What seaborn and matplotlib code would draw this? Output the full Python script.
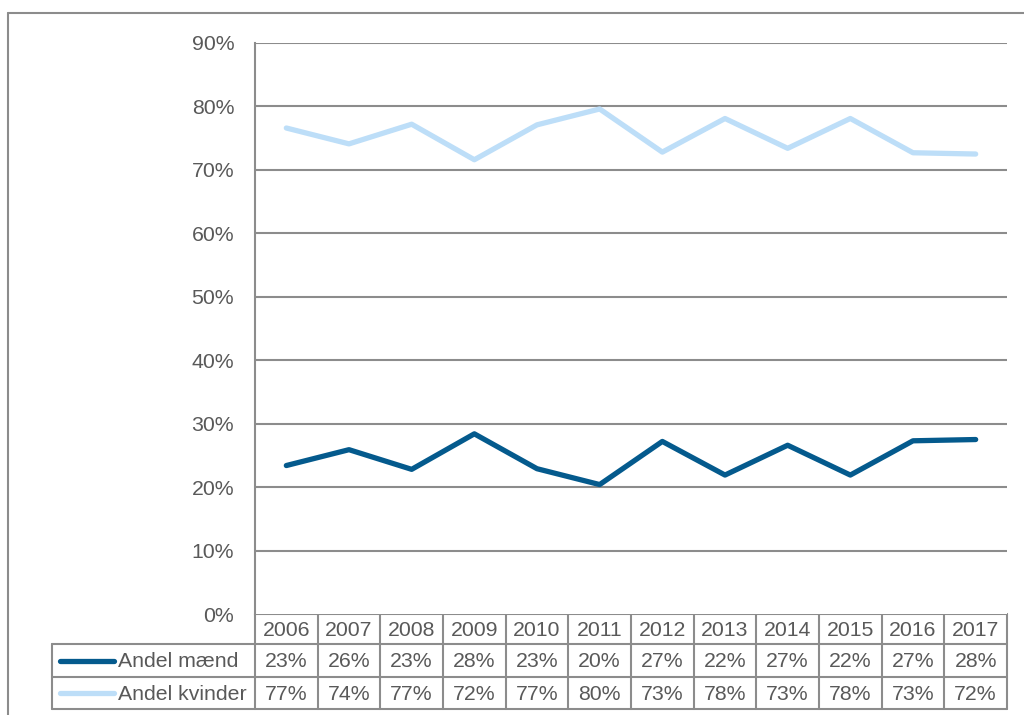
"""Andel mænd / kvinder 2006-2017 med datatabel under grafen."""

import matplotlib.pyplot as plt
import pandas as pd
import seaborn as sns

years = ["2006", "2007", "2008", "2009", "2010", "2011",
         "2012", "2013", "2014", "2015", "2016", "2017"]
andel_maend = [23.4, 25.9, 22.8, 28.4, 22.9, 20.4, 27.2, 21.9, 26.6, 21.9, 27.3, 27.5]
andel_kvinder = [76.6, 74.1, 77.2, 71.6, 77.1, 79.6, 72.8, 78.1, 73.4, 78.1, 72.7, 72.5]
series_names = ["Andel mænd", "Andel kvinder"]
y_ticks = [0, 10, 20, 30, 40, 50, 60, 70, 80, 90]

DARK = "#045a8d"
LIGHT = "#bddef8"
GRID = "#8c8c8c"
TEXT = "#595959"
FS = 15.3

sns.set_style("white")
plt.rcParams["font.family"] = ["Liberation Sans", "DejaVu Sans"]

df = pd.DataFrame({"year": years, series_names[0]: andel_maend,
                   series_names[1]: andel_kvinder})
long = df.melt(id_vars="year", var_name="serie", value_name="andel")
long["pos"] = long["year"].map({y: i for i, y in enumerate(years)})
palette = {series_names[0]: DARK, series_names[1]: LIGHT}

W, H = 1024, 715
fig = plt.figure(figsize=(W / 100, H / 100), dpi=100)
ax = fig.add_axes([255 / W, 1 - 614 / H, 752 / W, 571 / H])

sns.lineplot(data=long, x="pos", y="andel", hue="serie", palette=palette,
             linewidth=3.8, legend=False, ax=ax, solid_capstyle="round")

ax.set_xlim(-0.5, len(years) - 0.5)
ax.set_ylim(0, 90)
ax.set_yticks(y_ticks)
ax.set_yticklabels([f"{t}%" for t in y_ticks], color=TEXT, fontsize=FS)
ax.tick_params(axis="y", length=0, pad=15)
ax.set_xticks([])
ax.set_xlabel("")
ax.set_ylabel("")
for t in y_ticks[1:]:
    ax.axhline(t, color=GRID, linewidth=1.5, zorder=0)
for side in ["top", "right", "bottom"]:
    ax.spines[side].set_visible(False)
ax.spines["left"].set_color(GRID)
ax.spines["left"].set_linewidth(1.5)

# datatabel, tegnet i et eget axes med pixel-koordinater
tx = fig.add_axes([0, 0, 1, 1], zorder=-1)
tx.set_xlim(0, W)
tx.set_ylim(H, 0)
tx.axis("off")

x0, x_lab, x1 = 52, 255, 1007
rows_y = [614, 644, 677, 709]
col_w = (x1 - x_lab) / len(years)
lw = dict(color=GRID, linewidth=1.5)

tx.plot([x_lab, x1], [rows_y[0], rows_y[0]], **lw)
for yy in rows_y[1:]:
    tx.plot([x0, x1], [yy, yy], **lw)
for i in range(len(years) + 1):
    tx.plot([x_lab + i * col_w] * 2, [rows_y[0], rows_y[-1]], **lw)
tx.plot([x0, x0], [rows_y[1], rows_y[-1]], **lw)

for r, vals in enumerate([years, andel_maend, andel_kvinder]):
    yc = (rows_y[r] + rows_y[r + 1]) / 2 + 1
    for i, v in enumerate(vals):
        label = v if r == 0 else f"{round(v)}%"
        tx.text(x_lab + (i + 0.5) * col_w, yc, label, ha="center", va="center",
                color=TEXT, fontsize=FS)

# række-etiketter med linjeprøve
for i, name in enumerate(series_names):
    yc = (rows_y[i + 1] + rows_y[i + 2]) / 2
    tx.plot([60, 114], [yc, yc], color=palette[name], linewidth=3.8,
            solid_capstyle="round")
    tx.text(118, yc + 1, name, ha="left", va="center", color=TEXT, fontsize=FS)

# ydre ramme
tx.plot([8, 8], [13, H], **lw)
tx.plot([8, W], [13, 13], **lw)

fig.savefig("out.png", dpi=100)
